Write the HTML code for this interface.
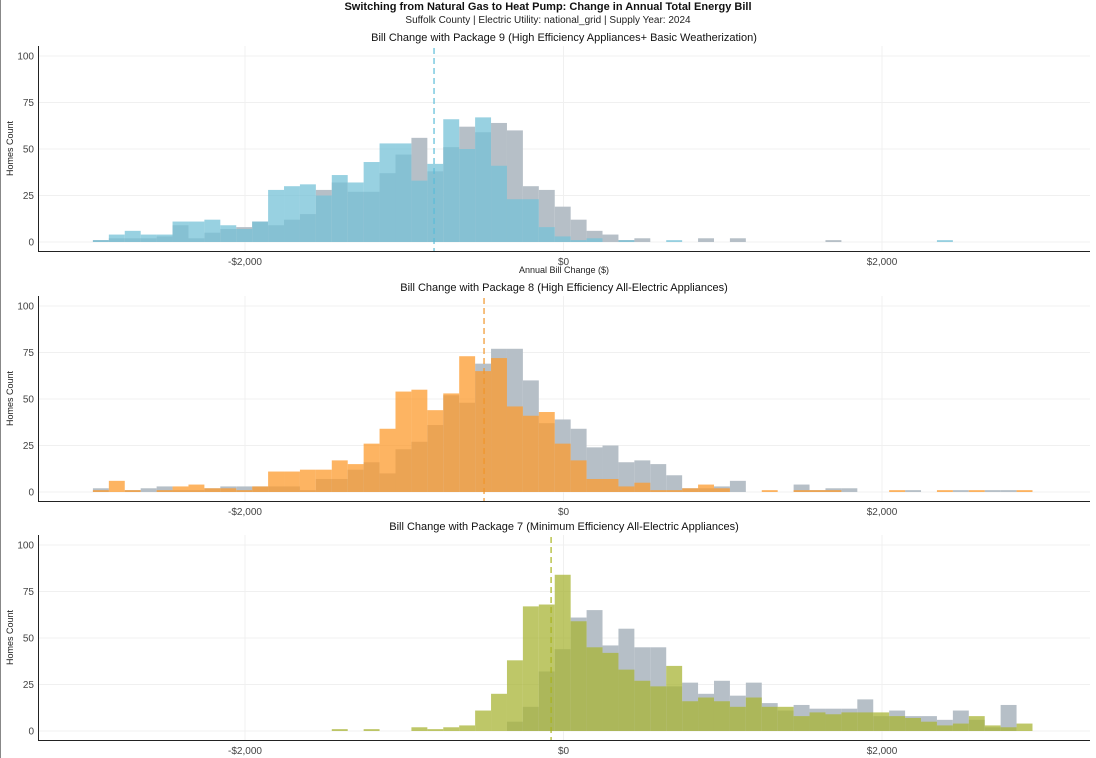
<!DOCTYPE html>
<html><head><meta charset="utf-8"><style>
body{margin:0;background:#fff;}
svg{display:block;font-family:"Liberation Sans",sans-serif;}
</style></head><body>
<svg id="chart" width="1096" height="758" viewBox="0 0 1096 758">
<line x1="0.5" y1="0" x2="0.5" y2="758" stroke="#888"/>
<text x="548" y="10" text-anchor="middle" font-size="11" font-weight="bold" fill="#111">Switching from Natural Gas to Heat Pump: Change in Annual Total Energy Bill</text>
<text x="548" y="23" text-anchor="middle" font-size="10" fill="#222">Suffolk County  | Electric Utility: national_grid | Supply Year: 2024</text>
</svg>
<script>
const binStart = -2955;
const binWidth = 100;
const yTicks = [0, 25, 50, 75, 100];
const xTicks = [-2000, 0, 2000];
const xTickLabels = ["-$2,000", "$0", "$2,000"];
const panelTitles = ["Bill Change with Package 9 (High Efficiency Appliances+ Basic Weatherization)","Bill Change with Package 8 (High Efficiency All-Electric Appliances)","Bill Change with Package 7 (Minimum Efficiency All-Electric Appliances)"];
const meanValues = [-813, -499, -78];
const baseline1 = [1,2,2,2,3,9,2,5,7,8,11,9,12,15,28,32,27,27,37,47,56,38,51,62,59,64,60,30,28,19,12,6,4,1,2,0,0,0,2,0,2,0,0,0,0,0,1,0,0,0,0,0,0,0,0,0,0,0,0,0];
const package9 = [1,4,6,4,4,11,11,12,9,7,11,28,30,31,25,36,32,43,53,53,33,42,66,50,67,41,23,23,8,3,1,2,0,1,0,0,1,0,0,0,0,0,0,0,0,0,0,0,0,0,0,0,0,1,0,0,0,0,0,0];
const baseline2 = [2,0,1,2,3,1,1,2,3,3,3,3,3,1,7,7,12,16,10,23,27,36,52,48,69,77,77,60,37,39,34,24,25,16,17,15,9,2,2,3,6,0,0,0,4,1,2,2,0,0,0,1,0,0,1,0,1,1,0,0];
const package8 = [1,6,1,0,1,3,4,2,2,1,3,11,11,12,12,17,15,26,34,54,55,44,53,73,65,72,46,41,43,26,17,7,7,3,5,1,1,2,4,2,0,0,1,0,1,1,1,0,0,0,1,0,0,1,0,1,0,0,1,0];
const baseline3 = [0,0,0,0,0,0,0,0,0,0,0,0,0,0,0,0,0,0,0,0,0,0,0,0,0,0,5,13,32,44,61,65,46,55,45,45,24,26,20,27,19,26,15,11,14,12,12,12,17,8,11,8,8,6,11,6,2,14,0,0];
const package7 = [0,0,0,0,0,0,0,0,0,0,0,0,0,0,0,1,0,1,0,0,2,1,2,3,11,20,38,67,68,84,59,45,42,33,27,24,35,16,18,16,13,18,13,13,8,10,9,10,10,10,8,7,5,3,4,8,3,2,4,0];

const NS = "http://www.w3.org/2000/svg";
const svg = document.getElementById("chart");
function mk(tag, attrs, parent){const e=document.createElementNS(NS,tag);for(const k in attrs)e.setAttribute(k,attrs[k]);(parent||svg).appendChild(e);return e;}
function xScale(v){return 563.5 + v*0.15925;}
const panels = [
 {y0:242, top:46, titleY:41, base:baseline1, pkg:package9, color:"rgb(118,194,215)", dash:"#5bbcd8", name:"package-9"},
 {y0:492, top:296, titleY:291, base:baseline2, pkg:package8, color:"rgb(252,155,46)", dash:"#f0952a", name:"package-8"},
 {y0:731, top:535, titleY:530, base:baseline3, pkg:package7, color:"rgb(168,180,54)", dash:"#a8b420", name:"package-7"}
];
function yScale(p,v){return p.y0 - v*1.86;}
panels.forEach((p,pi)=>{
  const g = mk("g",{});
  
  
  const bottom = p.y0+9;
  yTicks.forEach(t=>{
    const l=mk("line",{x1:38,x2:1090,y1:yScale(p,t),y2:yScale(p,t),stroke:"#f0f0f0"},g);
    
    
    const tx=mk("text",{x:34,y:yScale(p,t)+3.5,"text-anchor":"end","font-size":"10",fill:"#444"},g);
    tx.textContent=t;
    
    
  });
  xTicks.forEach((t,i)=>{
    const l=mk("line",{x1:xScale(t),x2:xScale(t),y1:p.top,y2:bottom,stroke:"#f0f0f0"},g);
    
    
    const tx=mk("text",{x:xScale(t),y:bottom+14,"text-anchor":"middle","font-size":"10",fill:"#444"},g);
    tx.textContent=xTickLabels[i];
    
    
  });
  p.base.forEach((v,i)=>{
    if(!v) return;
    const x0=xScale(binStart+i*binWidth), x1=xScale(binStart+(i+1)*binWidth);
    const r=mk("rect",{x:x0,y:yScale(p,v),width:x1-x0,height:v*1.86,fill:"rgb(182,191,199)"},g);
    
    
  });
  p.pkg.forEach((v,i)=>{
    if(!v) return;
    const x0=xScale(binStart+i*binWidth), x1=xScale(binStart+(i+1)*binWidth);
    const r=mk("rect",{x:x0,y:yScale(p,v),width:x1-x0,height:v*1.86,fill:p.color,"fill-opacity":0.75},g);
    
    
  });
  const m=mk("line",{x1:xScale(meanValues[pi]),x2:xScale(meanValues[pi]),y1:p.top+2,y2:bottom,stroke:p.dash,"stroke-width":1.2,"stroke-dasharray":"6,4"},g);
  
  
  const ax=mk("path",{d:`M38.5 ${p.top} V${bottom+0.5} H1090`,fill:"none",stroke:"#222","stroke-width":1},g);
  
  
  const tt=mk("text",{x:564,y:p.titleY,"text-anchor":"middle","font-size":"11",fill:"#111"},g);
  tt.textContent=panelTitles[pi];
  
  
  const yt=mk("text",{x:0,y:0,"text-anchor":"middle","font-size":"9",fill:"#222",transform:`translate(13 ${(p.top+bottom)/2}) rotate(-90)`},g);
  yt.textContent="Homes Count";
  
  
  if(pi===0){
    const xt=mk("text",{x:564,y:273,"text-anchor":"middle","font-size":"9",fill:"#222"},g);
    xt.textContent="Annual Bill Change ($)";
    
    
  }
});
</script>
</body></html>
